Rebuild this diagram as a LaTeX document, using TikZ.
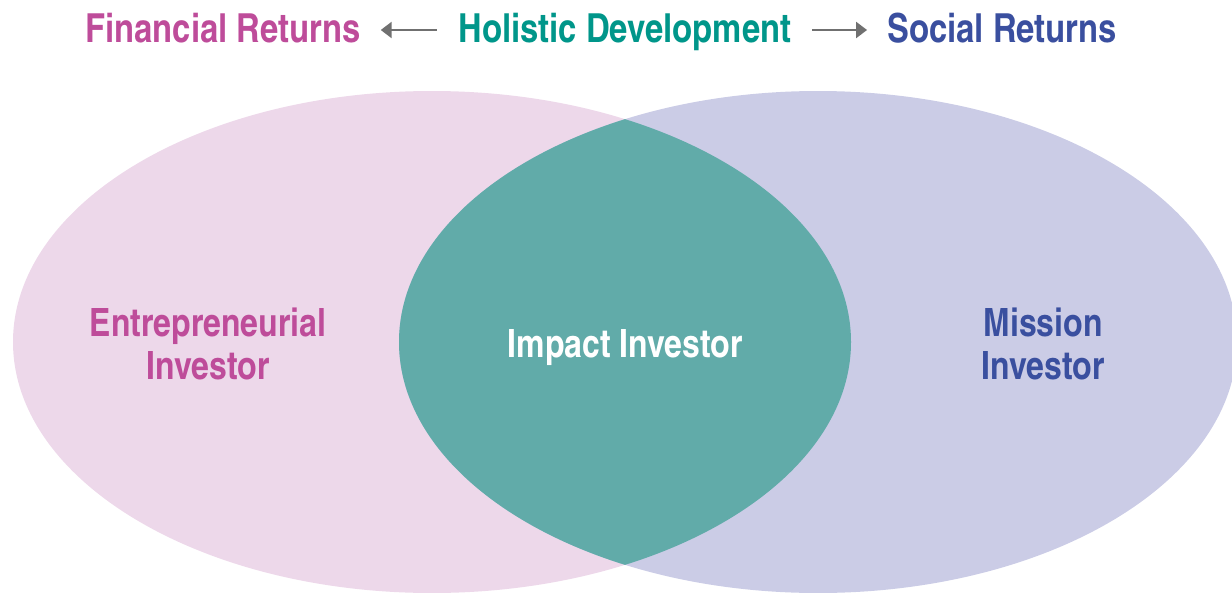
\documentclass[tikz,border=0pt]{standalone}
\usepackage{fontspec}
\setmainfont{texgyreheroscn}[Extension=.otf, UprightFont=*-regular, BoldFont=*-bold]
\usetikzlibrary{arrows.meta}
\definecolor{pinkfill}{HTML}{EDD8EA}
\definecolor{lavfill}{HTML}{CBCCE6}
\definecolor{tealfill}{HTML}{61ABA9}
\definecolor{magtext}{HTML}{BE4C9A}
\definecolor{tealtext}{HTML}{00968A}
\definecolor{bluetext}{HTML}{3A4F9F}
\definecolor{arrowgray}{HTML}{707070}
\tikzset{
  label/.style={inner sep=0pt, anchor=base, font=\bfseries\fontsize{39}{43}\selectfont, align=center},
  title/.style={inner sep=0pt, anchor=base, font=\bfseries\fontsize{40}{44}\selectfont},
  flow/.style={draw=arrowgray, line width=2.4pt, -{Triangle[length=11pt,width=16pt]}},
}
\begin{document}
\begin{tikzpicture}[x=1pt,y=-1pt]
  \useasboundingbox (0,0) rectangle (1232,592);
  % the two overlapping ellipses
  \fill[pinkfill] (432,342) ellipse [x radius=419, y radius=251];
  \fill[lavfill] (818,342) ellipse [x radius=419, y radius=251];
  \begin{scope}
    \clip (432,342) ellipse [x radius=419, y radius=251];
    \fill[tealfill] (818,342) ellipse [x radius=419, y radius=251];
  \end{scope}
  % heading row
  \node[title, text=magtext] (fin) at (223,42) {Financial Returns};
  \node[title, text=tealtext] (hol) at (625,42) {Holistic Development};
  \node[title, text=bluetext] (soc) at (1002,42) {Social Returns};
  \draw[flow, shorten <=22pt, shorten >=20pt] (hol.west |- 0,30) -- (fin.east |- 0,30);
  \draw[flow, shorten <=21pt, shorten >=20pt] (hol.east |- 0,30) -- (soc.west |- 0,30);
  % ellipse labels (base anchor sits on the last line)
  \node[label, text=magtext] (ent) at (208,379) {Entrepreneurial\\Investor};
  \node[label, text=white] (imp) at (625,357) {Impact Investor};
  \node[label, text=bluetext] (mis) at (1043,379) {Mission\\Investor};
\end{tikzpicture}
\end{document}
